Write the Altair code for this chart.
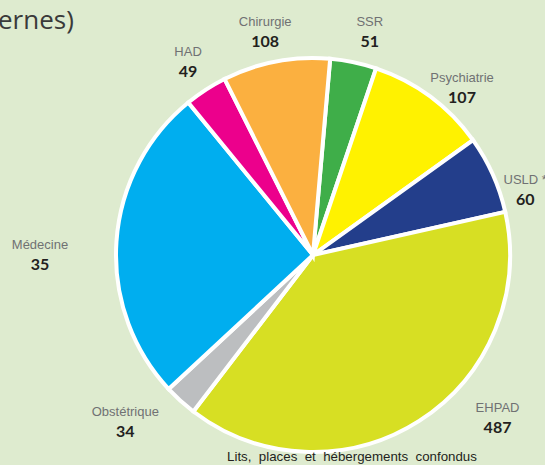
import math
import altair as alt
import pandas as pd

# ---- data ----
categories = ["SSR", "Psychiatrie", "USLD *", "EHPAD", "Obstétrique", "Médecine", "HAD", "Chirurgie"]
shares = [3.8, 9.9, 6.4, 38.9, 2.7, 26.0, 3.5, 8.8]          # slice sizes (%)
counts = [51, 107, 60, 487, 34, 35, 49, 108]                   # printed numbers
colors = ["#3fae49", "#fff200", "#233e8b", "#d7df23", "#bcbec0", "#00aeef", "#ec008c", "#fbb040"]

# ---- layout (label placement around the pie) ----
label_angle_deg = [14.3, 41.7, 72.9, 131.4, 228.4, 270.0, 327.1, 347.9]
label_radius = [230, 224, 222, 246, 251, 273, 230, 228]
start_deg = 5.0
CX, CY, R = 313, 255, 197

df = pd.DataFrame({"cat": categories, "share": shares, "idx": list(range(len(categories)))})
lab = pd.DataFrame({
    "cat": categories,
    "count": [str(c) for c in counts],
    "th": [math.radians(a) for a in label_angle_deg],
    "r": label_radius,
})

start = math.radians(start_deg)

pie = alt.Chart(df).mark_arc(stroke="white", strokeWidth=4, outerRadius=R).encode(
    theta=alt.Theta("share:Q", stack=True, scale=alt.Scale(range=[start, start + 2 * math.pi])),
    color=alt.Color("cat:N", scale=alt.Scale(domain=categories, range=colors), legend=None),
    order=alt.Order("idx:Q"),
    x=alt.value(CX),
    y=alt.value(CY),
)

names = alt.Chart(lab).mark_text(
    font="Liberation Sans", fontSize=13, color="#707173", dy=-10
).encode(
    theta=alt.Theta("th:Q", scale=None, stack=None),
    radius=alt.Radius("r:Q", scale=None),
    text="cat:N",
    x=alt.value(CX),
    y=alt.value(CY),
)

nums = alt.Chart(lab).mark_text(
    font="Lato", fontSize=16, fontWeight="bold", color="#231f20", dy=10
).encode(
    theta=alt.Theta("th:Q", scale=None, stack=None),
    radius=alt.Radius("r:Q", scale=None),
    text="count:N",
    x=alt.value(CX),
    y=alt.value(CY),
)

title = alt.Chart(pd.DataFrame({"t": ["ernes)"]})).mark_text(
    font="Open Sans", fontSize=26, color="#3a3a3a", align="left", baseline="alphabetic"
).encode(text="t:N", x=alt.value(-2), y=alt.value(29))

NB = "\u00a0\u00a0"
foot_text = NB.join(["Lits,", "places", "et", "hébergements", "confondus"])
foot = alt.Chart(pd.DataFrame({"t": [foot_text]})).mark_text(
    font="Liberation Sans", fontSize=13.3, color="#231f20", align="center", baseline="alphabetic"
).encode(text="t:N", x=alt.value(352), y=alt.value(461))

chart = alt.layer(pie, names, nums, title, foot).properties(
    width=545, height=465, autosize="none", padding=0, background="#deebcf"
).configure_view(stroke=None)

chart.save("out.html", embed_options={"renderer": "svg", "actions": False})
